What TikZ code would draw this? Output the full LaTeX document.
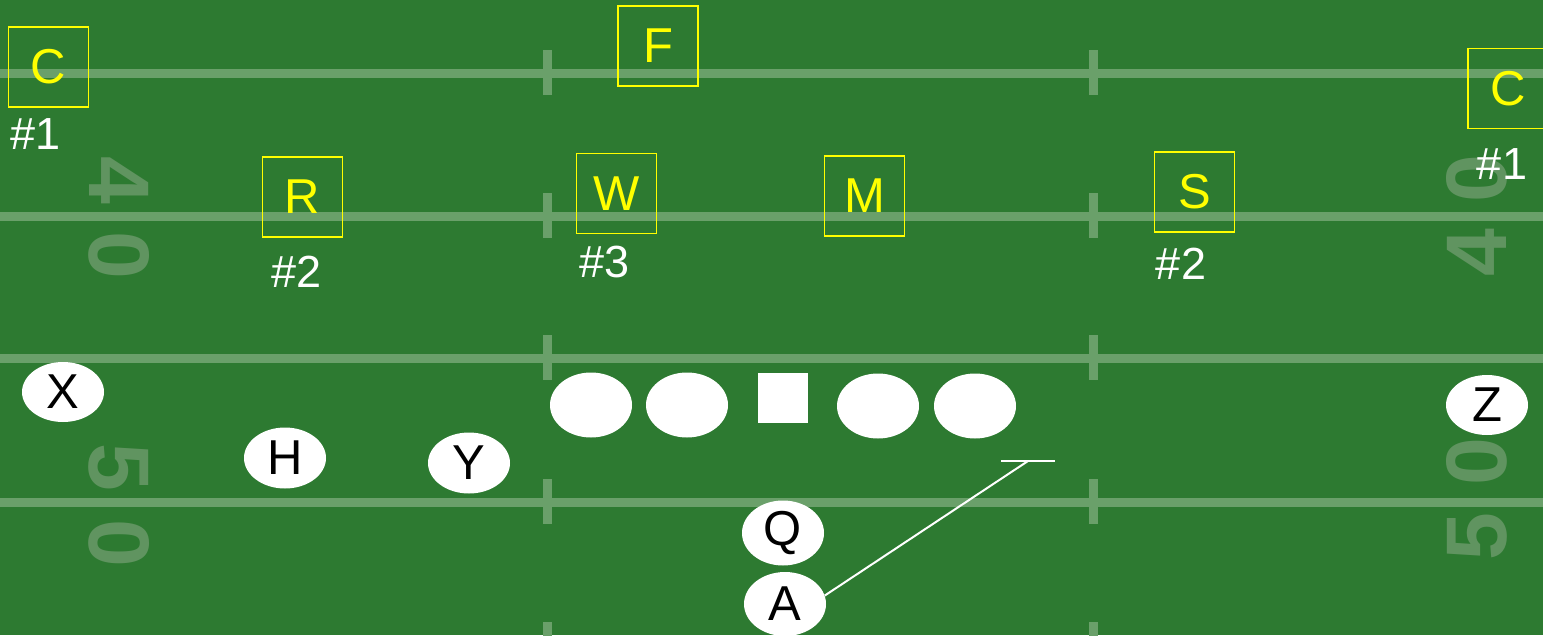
\documentclass[tikz,border=0pt]{standalone}
\usepackage{fontspec}
\setmainfont{Liberation Sans}
\usetikzlibrary{shapes.geometric}
\definecolor{grass}{RGB}{45,122,49}
\definecolor{fieldcol}{RGB}{106,160,106}
\definecolor{numcol}{RGB}{96,148,96}
\definecolor{ylw}{RGB}{255,255,0}
\begin{document}
\begin{tikzpicture}[x=1pt,y=-1pt,
  defbox/.style={draw=ylw, line width=1.6pt, minimum width=80pt, minimum height=80pt, inner sep=0pt, text=ylw, font=\fontsize{49}{50}\selectfont},
  offell/.style={ellipse, fill=white, minimum width=82pt, minimum height=64pt, inner sep=0pt, font=\fontsize{49}{50}\selectfont},
  numlbl/.style={text=white, font=\fontsize{45}{46}\selectfont, inner sep=0pt},
  fieldline/.style={draw=fieldcol, line width=9pt},
  hashmark/.style={draw=fieldcol, line width=9pt},
  yardnum/.style={text=numcol, font=\bfseries\fontsize{86}{86}\selectfont, inner sep=0pt},
  routeline/.style={draw=white, line width=2pt}]
\useasboundingbox (0,0) rectangle (1543,635);
\clip (0,0) rectangle (1543,635);
\fill[grass] (0,0) rectangle (1543,635);
% field lines
\foreach \yy in {73,216,358,502} {
  \draw[fieldline] (0,\yy) -- (1543,\yy);
}
\foreach \yy in {73,216,358,502,645} {
  \draw[hashmark] (547,\yy-23) -- (547,\yy+22);
  \draw[hashmark] (1093,\yy-23) -- (1093,\yy+22);
}
% yard numbers
\node[yardnum, rotate=-90] (n4l) at (119,180) {4};
\node[yardnum, rotate=-90] (n0l) at (119,255) {0};
\node[yardnum, rotate=-90] (n5l) at (119,467) {5};
\node[yardnum, rotate=-90] (n0lb) at (119,543) {0};
\node[yardnum, rotate=90] (n0r) at (1477,179) {0};
\node[yardnum, rotate=90] (n4r) at (1477,253) {4};
\node[yardnum, rotate=90] (n0rb) at (1477,462) {0};
\node[yardnum, rotate=90] (n5r) at (1477,537) {5};
% defense
\node[defbox] (C1) at (48.5,67) {C};
\node[defbox] (F) at (658,46) {F};
\node[defbox] (R) at (302.5,197) {R};
\node[defbox] (W) at (616.5,193.5) {W};
\node[defbox] (M) at (864.5,196) {M};
\node[defbox] (S) at (1194.5,192) {S};
\node[defbox] (C2) at (1508,88.5) {C};
\node[numlbl] (l1a) at (36,134) {\#1};
\node[numlbl] (l2a) at (297,272) {\#2};
\node[numlbl] (l3) at (605,262) {\#3};
\node[numlbl] (l2b) at (1181,264) {\#2};
\node[numlbl] (l1b) at (1502,164) {\#1};
% offense
\node[offell, minimum height=60pt] (X) at (63,392) {X};
\node[offell, minimum height=61pt] (H) at (285,458) {H};
\node[offell, minimum height=61pt] (Y) at (469,463) {Y};
\node[offell, minimum height=65pt] (LT) at (591,405) {};
\node[offell, minimum height=65pt] (LG) at (687,405) {};
\node[fill=white, minimum size=50pt, inner sep=0pt] (Ctr) at (783,398) {};
\node[offell, minimum height=65pt] (RG) at (878,406) {};
\node[offell, minimum height=65pt] (RT) at (975,406) {};
\node[offell, minimum height=60pt] (Z) at (1487,405) {Z};
\node[offell, minimum height=65pt] (Q) at (783,533) {Q};
\node[offell, minimum height=64pt] (A) at (785,604) {A};
% route
\coordinate (tip) at (1028,461);
\coordinate (tl) at (1001,461);
\coordinate (tr) at (1055,461);
\draw[routeline] (A.12) -- (tip);
\draw[routeline] (tl) -- (tr);
\end{tikzpicture}
\end{document}
